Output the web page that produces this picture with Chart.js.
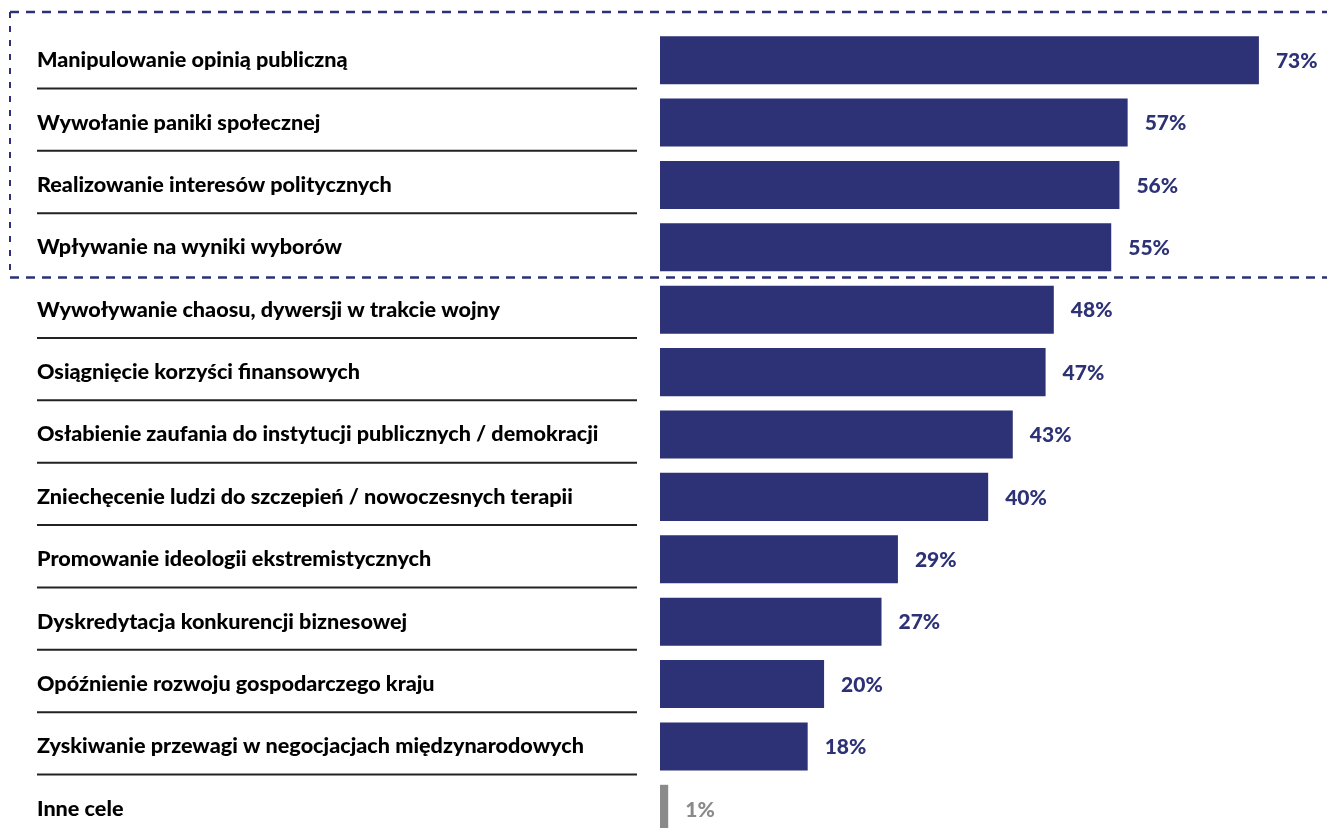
<!DOCTYPE html>
<html>
<head>
<meta charset="utf-8">
<script src="https://cdn.jsdelivr.net/npm/chart.js@4.4.1/dist/chart.umd.min.js"></script>
<style>
  html, body { margin: 0; padding: 0; background: #fff; overflow: hidden; }
  #wrap { width: 1327px; height: 845px; position: relative; }
</style>
</head>
<body>
<div id="wrap"><canvas id="chart"></canvas></div>
<script>
// Categories and values
const categories = [
    "Manipulowanie opinią publiczną",
    "Wywołanie paniki społecznej",
    "Realizowanie interesów politycznych",
    "Wpływanie na wyniki wyborów",
    "Wywoływanie chaosu, dywersji w trakcie wojny",
    "Osiągnięcie korzyści finansowych",
    "Osłabienie zaufania do instytucji publicznych / demokracji",
    "Zniechęcenie ludzi do szczepień / nowoczesnych terapii",
    "Promowanie ideologii ekstremistycznych",
    "Dyskredytacja konkurencji biznesowej",
    "Opóźnienie rozwoju gospodarczego kraju",
    "Zyskiwanie przewagi w negocjacjach międzynarodowych",
    "Inne cele"
];
const values = [73, 57, 56, 55, 48, 47, 43, 40, 29, 27, 20, 18, 1];
// number of top rows inside the dashed frame
const framedRows = 4;

const NAVY = "#2d3175";
const GREY = "#8a8a8a";
const barColors = categories.map(c => c === "Inne cele" ? GREY : NAVY);

// Draws the left-hand labels, separator rules, value labels and dashed frame
const decorations = {
    id: "decorations",
    afterDatasetsDraw(chart) {
        const ctx = chart.ctx;
        const y = chart.scales.y;
        const meta = chart.getDatasetMeta(0);
        const step = Math.abs(y.getPixelForValue(1) - y.getPixelForValue(0));

        ctx.save();
        ctx.textBaseline = "middle";
        ctx.textAlign = "left";

        categories.forEach((label, i) => {
            const cy = y.getPixelForValue(i);
            ctx.fillStyle = "#000";
            ctx.font = "900 21.6px Lato";
            ctx.fillText(label, 37, cy);

            // rule below every label except the last and the one on the dashed line
            if (i < categories.length - 1 && i !== framedRows - 1) {
                ctx.strokeStyle = "#222";
                ctx.lineWidth = 2;
                ctx.beginPath();
                ctx.moveTo(37, cy + step / 2 - 3);
                ctx.lineTo(637, cy + step / 2 - 3);
                ctx.stroke();
            }

            const bar = meta.data[i];
            ctx.fillStyle = barColors[i];
            ctx.font = "900 21px Lato";
            ctx.fillText(values[i] + "%", bar.x + 17, cy + 1);
        });

        // dashed frame around the top rows
        const top = y.getPixelForValue(0) - step / 2 - 17;
        const bottom = y.getPixelForValue(framedRows - 1) + step / 2 - 1;
        ctx.strokeStyle = NAVY;
        ctx.setLineDash([9, 7]);
        ctx.lineWidth = 2.5;
        ctx.beginPath();
        ctx.moveTo(10, top);
        ctx.lineTo(chart.width, top);
        ctx.moveTo(10, bottom);
        ctx.lineTo(chart.width, bottom);
        ctx.stroke();
        ctx.lineWidth = 2;
        ctx.setLineDash([6, 8]);
        ctx.beginPath();
        ctx.moveTo(10, top);
        ctx.lineTo(10, bottom);
        ctx.stroke();
        ctx.restore();
    }
};

const ctx = document.getElementById("chart").getContext("2d");
const chart = new Chart(ctx, {
    type: "bar",
    data: {
        labels: categories,
        datasets: [{
            data: values,
            backgroundColor: barColors,
            borderWidth: 0,
            barPercentage: 0.77,
            categoryPercentage: 1
        }]
    },
    options: {
        indexAxis: "y",
        responsive: true,
        maintainAspectRatio: false,
        animation: false,
        layout: { padding: { left: 660, top: 29, bottom: 5, right: 0 } },
        plugins: {
            legend: { display: false },
            tooltip: { enabled: false }
        },
        scales: {
            x: { display: false, min: 0, max: 81.3 },
            y: { display: false }
        }
    },
    plugins: [decorations]
});
</script>
</body>
</html>
